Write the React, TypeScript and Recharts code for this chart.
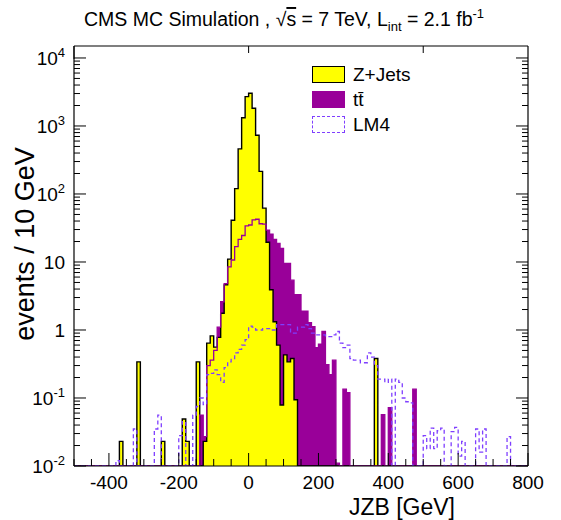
import React from 'react';
import { ComposedChart, Area, Line, XAxis, YAxis, Legend, Label } from 'recharts';

const FONT = '"Liberation Sans", Arial, Helvetica, sans-serif';

// 10 GeV bins, first bin starts at -500 GeV (130 bins up to 800)
const binLow = -500;
const binWidth = 10;

// Z+Jets, events / 10 GeV (one row = 100 GeV)
const zJets = [
  0, 0, 0, 0, 0, 0, 0, 0, 0, 0, // -500
  0, 0, 0, 0.023, 0, 0, 0, 0, 0.34, 0, // -400
  0, 0, 0, 0, 0, 0.023, 0, 0, 0, 0, // -300
  0, 0.049, 0.023, 0, 0, 0.34, 0, 0.023, 0.64, 0.82, // -200
  0.56, 0.78, 1.76, 4.6, 11, 41, 120, 460, 1320, 2700, // -100
  3030, 1820, 730, 215, 62, 19.5, 3.9, 1.32, 0.6, 0.079, // 0
  0.43, 0.34, 0.38, 0.094, 0, 0, 0, 0, 0, 0, // 100
  0, 0, 0, 0, 0, 0, 0, 0, 0, 0, // 200
  0, 0, 0, 0, 0, 0, 0.38, 0, 0, 0, // 300
  0, 0, 0, 0, 0, 0, 0, 0, 0, 0, // 400
  0, 0, 0, 0, 0, 0, 0, 0, 0, 0, // 500
  0, 0, 0, 0, 0, 0, 0, 0, 0, 0, // 600
  0, 0, 0, 0, 0, 0, 0, 0, 0, 0, // 700
];

// ttbar
const ttbar = [
  0, 0, 0, 0, 0, 0, 0, 0, 0, 0,
  0, 0, 0, 0, 0, 0, 0, 0, 0, 0,
  0, 0, 0, 0, 0, 0, 0, 0, 0, 0,
  0, 0, 0, 0, 0, 0, 0.056, 0.027, 0.3, 0.36,
  0.5, 1.1, 2.6, 4.8, 8.5, 10.7, 16.8, 21.5, 24.5, 34,
  35, 41.5, 42.5, 36.5, 36, 29.5, 25.7, 21.5, 18.7, 15.8,
  9.5, 9.5, 5.4, 3.3, 3.3, 1.9, 1.9, 1.28, 1.12, 0.55,
  0.62, 0.95, 0.31, 0.22, 0.36, 0.011, 0, 0.135, 0.12, 0,
  0, 0, 0, 0, 0, 0, 0, 0, 0.057, 0,
  0.072, 0, 0, 0, 0, 0, 0, 0.135, 0, 0,
  0, 0, 0, 0, 0, 0, 0, 0, 0, 0,
  0, 0, 0, 0, 0, 0, 0, 0, 0, 0,
  0, 0, 0, 0, 0, 0, 0, 0, 0, 0,
];

// LM4 signal point
const lm4 = [
  0, 0, 0, 0, 0, 0, 0, 0, 0, 0,
  0, 0, 0.012, 0, 0, 0, 0, 0.035, 0, 0,
  0, 0, 0, 0.035, 0.056, 0, 0, 0, 0, 0,
  0.028, 0.045, 0, 0, 0.056, 0.075, 0.1, 0.08, 0.22, 0.23,
  0.26, 0.22, 0.17, 0.28, 0.34, 0.38, 0.46, 0.52, 0.6, 0.72,
  1.14, 1.1, 1.0, 1.0, 1.05, 1.05, 1.0, 1.0, 1.2, 1.2,
  1.2, 1.2, 0.9, 0.9, 1.1, 1.1, 1.2, 1.05, 0.9, 0.85,
  0.85, 0.85, 0.8, 0.8, 0.85, 0.95, 0.64, 0.55, 0.6, 0.38,
  0.36, 0.36, 0.33, 0.33, 0.46, 0.4, 0.3, 0.19, 0.19, 0.17,
  0.19, 0, 0.19, 0.17, 0.1, 0.088, 0.085, 0, 0, 0,
  0.028, 0.018, 0.036, 0.018, 0.033, 0.036, 0, 0, 0.032, 0.037,
  0.014, 0.023, 0, 0, 0, 0.035, 0.016, 0.035, 0, 0,
  0, 0, 0, 0, 0.027, 0, 0, 0, 0, 0,
];

const xTicks = [
  -500, -450, -400, -350, -300, -250, -200, -150, -100, -50, 0, 50, 100, 150,
  200, 250, 300, 350, 400, 450, 500, 550, 600, 650, 700, 750, 800,
];
const xLabelled = [-400, -200, 0, 200, 400, 600, 800];
const yDecades = [0.01, 0.1, 1, 10, 100, 1000, 10000];
const yTicks = yDecades.flatMap((d) =>
  d === 10000 ? [d] : [1, 2, 3, 4, 5, 6, 7, 8, 9].map((m) => m * d)
);

const YMIN = 0.01;
const YMAX = 15000;

// step histograms: one point per bin edge, last edge repeats the last bin
const nBins = zJets.length;
const histData = Array.from({ length: nBins + 1 }, (_, i) => {
  const j = Math.min(i, nBins - 1);
  return {
    x: binLow + i * binWidth,
    zj: zJets[j] || YMIN,
    tt: ttbar[j] || YMIN,
    lm: lm4[j] || YMIN,
  };
});

const YELLOW = '#ffff00';
const PURPLE = '#990099';
const LM4C = '#7f3fff';

const isDecade = (v: number) => {
  const l = Math.log10(v);
  return Math.abs(l - Math.round(l)) < 1e-6;
};

function BottomTick({ x, y, payload }: any) {
  const v = payload.value;
  const major = xLabelled.includes(v);
  return (
    <g>
      <line x1={x} x2={x} y1={y} y2={y - (major ? 13 : 7)} stroke="#000" strokeWidth={1} />
      {major && (
        <text x={x} y={y + 23} textAnchor="middle" fontSize={19} fontFamily={FONT} fill="#000">
          {v}
        </text>
      )}
    </g>
  );
}

function TopTick({ x, y, payload }: any) {
  const major = xLabelled.includes(payload.value);
  return <line x1={x} x2={x} y1={y} y2={y + (major ? 13 : 7)} stroke="#000" strokeWidth={1} />;
}

function LeftTick({ x, y, payload }: any) {
  const v = payload.value;
  const major = isDecade(v);
  const e = Math.round(Math.log10(v));
  return (
    <g>
      <line x1={x} x2={x + (major ? 12 : 6)} y1={y} y2={y} stroke="#000" strokeWidth={1} />
      {major && (
        <text x={x - 9} y={y + 7} textAnchor="end" fontSize={19} fontFamily={FONT} fill="#000">
          {e === 0 ? '1' : e === 1 ? '10' : (
            <>
              10<tspan dy={-8} fontSize={13}>{e}</tspan>
            </>
          )}
        </text>
      )}
    </g>
  );
}

function RightTick({ x, y, payload }: any) {
  const major = isDecade(payload.value);
  return <line x1={x} x2={x - (major ? 12 : 6)} y1={y} y2={y} stroke="#000" strokeWidth={1} />;
}

const legendItems = [
  { name: 'Z+Jets', style: { background: YELLOW, border: '1.5px solid #000' } },
  { name: 't\u0074\u0304', style: { background: PURPLE, border: `1.5px solid ${PURPLE}` } },
  { name: 'LM4', style: { background: '#fff', border: `1.5px dashed ${LM4C}` } },
];

function HistLegend() {
  return (
    <div style={{ fontFamily: FONT, fontSize: 19, color: '#000' }}>
      {legendItems.map((it) => (
        <div key={it.name} style={{ display: 'flex', alignItems: 'center', height: 25 }}>
          <div style={{ width: 31, height: 15, marginRight: 8, ...it.style }} />
          <span>{it.name}</span>
        </div>
      ))}
    </div>
  );
}

export default function App() {
  return (
    <div style={{ position: 'absolute', left: 0, top: 0, width: 561, height: 520, background: '#fff' }}>
      <ComposedChart
        width={561}
        height={520}
        data={histData}
        margin={{ top: 45, right: 32, bottom: 0, left: 0 }}
        style={{ fontFamily: FONT }}
      >
        <XAxis
          dataKey="x"
          type="number"
          domain={[-500, 800]}
          ticks={xTicks}
          interval={0}
          height={54}
          tickSize={0}
          tickMargin={0}
          tick={<BottomTick />}
          axisLine={{ stroke: '#000', strokeWidth: 1.2 }}
          allowDataOverflow
        >
          <Label
            content={({ viewBox }: any) => (
              <text
                x={viewBox.x + viewBox.width - 73}
                y={viewBox.y + 49}
                textAnchor="end"
                fontSize={23}
                fontFamily={FONT}
                fill="#000"
              >
                JZB [GeV]
              </text>
            )}
          />
        </XAxis>
        <XAxis
          xAxisId="top"
          orientation="top"
          type="number"
          domain={[-500, 800]}
          ticks={xTicks}
          interval={0}
          height={1}
          tickSize={0}
          tickMargin={0}
          tick={<TopTick />}
          axisLine={{ stroke: '#000', strokeWidth: 1.2 }}
          allowDataOverflow
        >
          <Label
            content={({ viewBox }: any) => (
              <text x={284} y={viewBox.y - 19} textAnchor="middle" fontSize={19.5} fontFamily={FONT} fill="#000">
                CMS MC Simulation , {'\u221A'}
                <tspan style={{ textDecoration: 'overline' }}>s</tspan> = 7 TeV, L
                <tspan dy={5} fontSize={13}>int</tspan>
                <tspan dy={-5}> = 2.1 fb</tspan>
                <tspan dy={-8} fontSize={13}>-1</tspan>
              </text>
            )}
          />
        </XAxis>
        <YAxis
          scale="log"
          type="number"
          domain={[YMIN, YMAX]}
          ticks={yTicks}
          interval={0}
          width={74}
          tickSize={0}
          tickMargin={0}
          tick={<LeftTick />}
          axisLine={{ stroke: '#000', strokeWidth: 1.2 }}
          allowDataOverflow
        >
          <Label
            content={() => {
              const cx = 34;
              const cy = 244;
              return (
                <text
                  x={cx}
                  y={cy}
                  transform={`rotate(-90 ${cx} ${cy})`}
                  textAnchor="middle"
                  fontSize={27}
                  fontFamily={FONT}
                  fill="#000"
                >
                  events / 10 GeV
                </text>
              );
            }}
          />
        </YAxis>
        <YAxis
          yAxisId="right"
          orientation="right"
          scale="log"
          type="number"
          domain={[YMIN, YMAX]}
          ticks={yTicks}
          interval={0}
          width={1}
          tickSize={0}
          tickMargin={0}
          tick={<RightTick />}
          axisLine={{ stroke: '#000', strokeWidth: 1.2 }}
          allowDataOverflow
        />
        <Area
          dataKey="tt"
          type="stepAfter"
          fill={PURPLE}
          fillOpacity={1}
          stroke="none"
          baseValue={YMIN}
          activeDot={false}
          isAnimationActive={false}
        />
        <Area
          dataKey="zj"
          type="stepAfter"
          fill={YELLOW}
          fillOpacity={1}
          stroke="#000"
          strokeWidth={1.4}
          baseValue={YMIN}
          activeDot={false}
          isAnimationActive={false}
        />
        <Line
          dataKey="tt"
          type="stepAfter"
          stroke={PURPLE}
          strokeWidth={1.3}
          dot={false}
          activeDot={false}
          isAnimationActive={false}
        />
        <Line
          dataKey="lm"
          type="stepAfter"
          stroke={LM4C}
          strokeWidth={1.3}
          strokeDasharray="4 3"
          dot={false}
          activeDot={false}
          isAnimationActive={false}
        />
        <Legend
          layout="vertical"
          align="center"
          verticalAlign="middle"
          wrapperStyle={{ left: 312, top: 62, width: 160 }}
          content={() => <HistLegend />}
        />
      </ComposedChart>
    </div>
  );
}
